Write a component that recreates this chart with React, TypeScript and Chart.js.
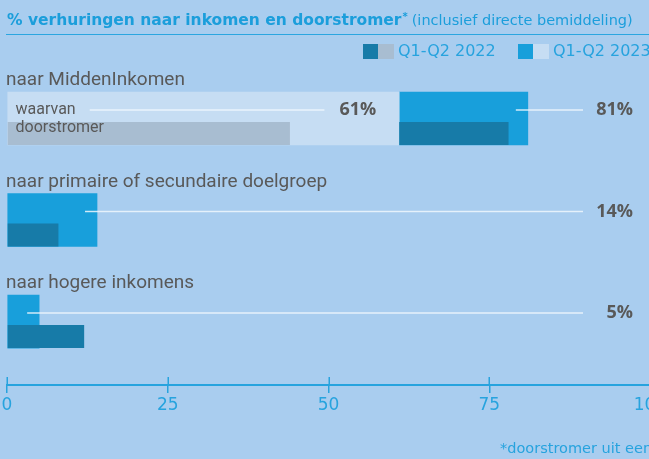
import React, { useEffect, useRef } from 'react';
import { Chart, registerables } from 'chart.js';

Chart.register(...registerables);

// ---------- data ----------
const categories = ['naar MiddenInkomen', 'naar primaire of secundaire doelgroep', 'naar hogere inkomens'];
const total2023 = [81, 14, 5];
const total2022 = [78, 8, 12];
const doorstromer2023: (number | null)[] = [61, null, null];
const doorstromer2022: (number | null)[] = [44, null, null];
const xTickValues = [0, 25, 50, 75, 100];
const legendLabels = ['Q1-Q2 2022', 'Q1-Q2 2023'];
const titleMain = '% verhuringen naar inkomen en doorstromer';
const titleNote = '(inclusief directe bemiddeling)';
const subLabel = ['waarvan', 'doorstromer'];
const footnote = '*doorstromer uit een';

// ---------- styles ----------
const BG = '#a9cdef';
const LIGHT = '#c6ddf3';
const BLUE = '#189fdb';
const DARK = '#177ba8';
const GREY = '#a8bdd1';
const TITLE_CYAN = '#1b9edb';
const CYAN = '#27a3de';
const TEXT_GREY = '#595959';
const CONNECTOR = 'rgba(240,247,253,0.85)';

const W = 660;
const H = 459;

type Seg = { x: [number, number]; y: number };
function segments(starts: (number | null)[] | null, ends: (number | null)[]): Seg[] {
  const out: Seg[] = [];
  ends.forEach((end, i) => {
    if (end == null) return;
    out.push({ x: [(starts && starts[i]) ?? 0, end], y: i });
  });
  return out;
}

const pct = (v: number) => `${v}%`;

const annotations = {
  id: 'annotations',
  afterDraw(chart: any) {
    const { ctx, chartArea } = chart;
    const x = chart.scales.x;
    const y = chart.scales.y;
    ctx.save();
    ctx.textAlign = 'left';
    ctx.textBaseline = 'alphabetic';

    // title
    ctx.fillStyle = TITLE_CYAN;
    ctx.font = 'bold 15.5px "DejaVu Sans"';
    ctx.fillText(titleMain, 7, 25);
    const wMain = ctx.measureText(titleMain).width;
    ctx.font = 'bold 10px "DejaVu Sans"';
    ctx.fillText('*', 7 + wMain + 1, 20);
    const wStar = ctx.measureText('*').width;
    ctx.font = '14.5px "DejaVu Sans"';
    ctx.fillText(titleNote, 7 + wMain + wStar + 5, 25);

    // title rule
    ctx.strokeStyle = '#2ba6e0';
    ctx.lineWidth = 1;
    ctx.beginPath();
    ctx.moveTo(6, 34.5);
    ctx.lineTo(W, 34.5);
    ctx.stroke();

    // legend
    const sw = [
      { a: DARK, b: GREY, x: 363, label: legendLabels[0] },
      { a: BLUE, b: LIGHT, x: 518, label: legendLabels[1] },
    ];
    ctx.font = '16px "DejaVu Sans"';
    sw.forEach((s) => {
      ctx.fillStyle = s.a;
      ctx.fillRect(s.x, 44, 15, 15);
      ctx.fillStyle = s.b;
      ctx.fillRect(s.x + 15, 44, 16, 15);
      ctx.fillStyle = CYAN;
      ctx.fillText(s.label, s.x + 35, 56);
    });

    // category labels
    ctx.fillStyle = TEXT_GREY;
    ctx.font = '19px Roboto';
    categories.forEach((c, i) => {
      const cy = y.getPixelForValue(i);
      ctx.fillText(c, 6, cy - 33.5);
    });

    // connector lines + value labels (2023 totals)
    ctx.font = 'bold 18px "Open Sans"';
    total2023.forEach((v, i) => {
      const cy = y.getPixelForValue(i);
      const ly = cy - 8.5;
      ctx.strokeStyle = CONNECTOR;
      ctx.lineWidth = 1.5;
      ctx.beginPath();
      ctx.moveTo(x.getPixelForValue(v) - 12, ly);
      ctx.lineTo(583, ly);
      ctx.stroke();
      ctx.fillStyle = TEXT_GREY;
      ctx.textAlign = 'right';
      ctx.textBaseline = 'middle';
      ctx.fillText(pct(v), 633, ly);
      ctx.textAlign = 'left';
      ctx.textBaseline = 'alphabetic';
    });

    // doorstromer annotation
    doorstromer2023.forEach((v, i) => {
      if (v == null) return;
      const cy = y.getPixelForValue(i);
      const ly = cy - 8.5;
      ctx.fillStyle = TEXT_GREY;
      ctx.font = '16px Roboto';
      ctx.fillText(subLabel[0], 15.5, cy - 4.8);
      ctx.fillText(subLabel[1], 15.5, cy + 13.2);
      const startX = 15.5 + ctx.measureText(subLabel[0]).width + 14;
      ctx.font = 'bold 18px "Open Sans"';
      const right = x.getPixelForValue(v) - 23;
      const lw = ctx.measureText(pct(v)).width;
      ctx.strokeStyle = CONNECTOR;
      ctx.lineWidth = 1.5;
      ctx.beginPath();
      ctx.moveTo(startX, ly);
      ctx.lineTo(right - lw - 15, ly);
      ctx.stroke();
      ctx.textAlign = 'right';
      ctx.textBaseline = 'middle';
      ctx.fillText(pct(v), right, ly);
      ctx.textAlign = 'left';
      ctx.textBaseline = 'alphabetic';
    });

    // upper halves of the axis tick marks
    ctx.strokeStyle = CYAN;
    ctx.lineWidth = 1.5;
    xTickValues.forEach((v) => {
      const px = Math.round(x.getPixelForValue(v)) + 0.25;
      ctx.beginPath();
      ctx.moveTo(px, chartArea.bottom - 8);
      ctx.lineTo(px, chartArea.bottom);
      ctx.stroke();
    });

    // footnote
    ctx.fillStyle = CYAN;
    ctx.font = '14.5px "DejaVu Sans"';
    ctx.fillText(footnote, 500, 452.5);

    ctx.restore();
  },
};

export default function App() {
  const ref = useRef<HTMLCanvasElement>(null);

  useEffect(() => {
    const canvas = ref.current;
    if (!canvas) return;
    const lowerSlot = { categoryPercentage: 0.59, barPercentage: 0.768, grouped: true, stack: 'lower', order: 1 };
    const full2023 = { grouped: false, barThickness: 53, stack: 'all2023', order: 2 };
    const chart = new Chart(canvas, {
      type: 'bar',
      data: {
        datasets: [
          { label: 'slot', data: [], stack: 'upper', grouped: true, order: 0, categoryPercentage: 0.59, barPercentage: 0.768 } as any,
          { label: 'doorstromer Q1-Q2 2022', data: segments(null, doorstromer2022), backgroundColor: GREY, ...lowerSlot } as any,
          { label: legendLabels[0], data: segments(doorstromer2023, total2022), backgroundColor: DARK, ...lowerSlot } as any,
          { label: 'doorstromer Q1-Q2 2023', data: segments(null, doorstromer2023), backgroundColor: LIGHT, ...full2023 } as any,
          { label: legendLabels[1], data: segments(doorstromer2023, total2023), backgroundColor: BLUE, ...full2023 } as any,
        ],
      },
      options: {
        indexAxis: 'y',
        responsive: false,
        animation: false,
        events: [],
        devicePixelRatio: 1,
        layout: { padding: { left: 7, right: 10, top: 67.75, bottom: 0 } },
        plugins: { legend: { display: false }, tooltip: { enabled: false } },
        scales: {
          y: {
            type: 'linear',
            display: false,
            offset: false,
            reverse: true,
            bounds: 'data',
            min: -0.5,
            max: 2.625,
            grid: { offset: false },
            ticks: { stepSize: 1, includeBounds: false },
          },
          x: {
            type: 'linear',
            position: 'bottom',
            stacked: false,
            min: 0,
            max: 100,
            afterBuildTicks: (s: any) => {
              s.ticks = xTickValues.map((value) => ({ value }));
            },
            afterFit: (s: any) => {
              s.height = 74;
              s.paddingLeft = 0;
              s.paddingRight = 0;
            },
            grid: { drawOnChartArea: false, color: CYAN, lineWidth: 1.5, tickLength: 8 },
            border: { color: CYAN, width: 2 },
            ticks: {
              color: CYAN,
              padding: 2,
              maxRotation: 0,
              autoSkip: false,
              font: { family: '"DejaVu Sans"', size: 17 },
            },
          },
        },
      } as any,
      plugins: [annotations],
    });
    return () => chart.destroy();
  }, []);

  return (
    <div
      style={{
        position: 'fixed',
        left: 0,
        top: 0,
        width: 649,
        height: 459,
        overflow: 'hidden',
        background: BG,
      }}
    >
      <canvas ref={ref} width={W} height={H} style={{ display: 'block', width: W, height: H }} />
    </div>
  );
}
